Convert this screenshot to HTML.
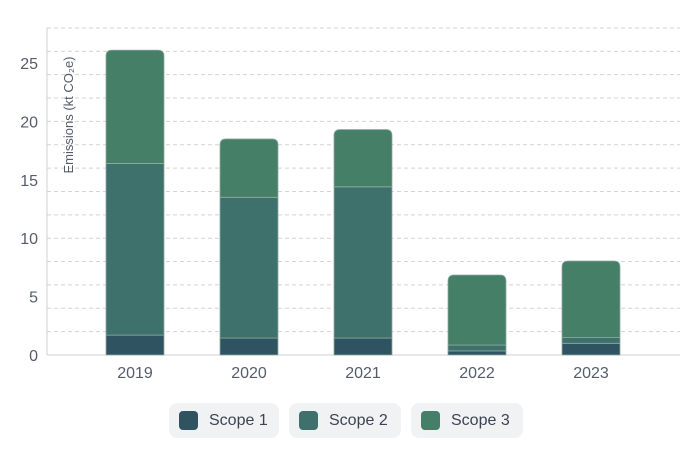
<!DOCTYPE html>
<html><head><meta charset="utf-8">
<style>
body{margin:0;background:#fff;width:686px;height:466px;overflow:hidden;font-family:"Liberation Sans",sans-serif;}
#chart{position:absolute;left:0;top:0;}
.legend{position:absolute;top:403px;left:0;width:686px;height:35px;}
.pill{position:absolute;top:0;height:35px;background:#f1f2f4;border-radius:8px;display:flex;align-items:center;font-size:16px;color:#3a4452;}
.sw{width:19px;height:19px;border-radius:4px;margin:0 11px 0 10px;}
</style></head><body>
<svg id="chart" width="686" height="400"></svg>
<div class="legend">
  <div class="pill" style="left:169px;width:110px"><div class="sw" style="background:#2f5361"></div>Scope 1</div>
  <div class="pill" style="left:289px;width:112px"><div class="sw" style="background:#3f716c"></div>Scope 2</div>
  <div class="pill" style="left:411px;width:112px"><div class="sw" style="background:#467f68"></div>Scope 3</div>
</div>
<script>
const categories = ["2019","2020","2021","2022","2023"];
const scope1 = [1.7, 1.45, 1.45, 0.35, 1.0];
const scope2 = [14.7, 12.05, 12.95, 0.5, 0.5];
const scope3 = [9.7, 5.0, 4.9, 6.0, 6.55];
const yTicks = [0, 5, 10, 15, 20, 25];
const gridValues = [0,2,4,6,8,10,12,14,16,18,20,22,24,26,28];

const NS = "http://www.w3.org/2000/svg";
const svg = document.getElementById("chart");
const x0 = 47, x1 = 680, yBase = 355, unit = 11.68;
const y = v => yBase - v * unit;
const xc = i => 135 + i * 114;
const barW = 58;
function mk(tag, attrs){const e=document.createElementNS(NS,tag);for(const k in attrs)e.setAttribute(k,attrs[k]);svg.appendChild(e);return e;}

gridValues.forEach(v=>{
  if(v===0) return;
  const l = mk("line",{x1:x0,x2:x1,y1:y(v),y2:y(v),stroke:"#d3d3d8","stroke-dasharray":"4,3","stroke-width":1});
  
  
});
const ax = mk("line",{x1:x0,x2:x0,y1:y(28),y2:yBase,stroke:"#d0d0d6"});


const bx = mk("line",{x1:x0,x2:x1,y1:yBase,y2:yBase,stroke:"#d0d0d6"});



yTicks.forEach(v=>{
  const t = mk("text",{x:38,y:y(v)+6,"text-anchor":"end","font-size":16,fill:"#555d6b"});
  t.textContent = v;
  
  
});
const yt = mk("text",{transform:"translate(73,115) rotate(-90)","text-anchor":"middle","font-size":13,fill:"#555d6b"});
yt.textContent = "Emissions (kt CO₂e)";



const series = [[scope1,"#2f5361","scope-1"],[scope2,"#3f716c","scope-2"],[scope3,"#467f68","scope-3"]];
categories.forEach((c,i)=>{
  let base = 0;
  const total = scope1[i]+scope2[i]+scope3[i];
  series.forEach(([arr,col,nm],si)=>{
    const v = arr[i];
    const top = base + v;
    let el;
    if(si===2){
      const xl = xc(i)-barW/2, xr = xc(i)+barW/2, yt2 = y(top), yb = y(base), r = 6;
      el = mk("path",{d:`M${xl},${yb} L${xl},${yt2+r} Q${xl},${yt2} ${xl+r},${yt2} L${xr-r},${yt2} Q${xr},${yt2} ${xr},${yt2+r} L${xr},${yb} Z`,fill:col,stroke:"#8fa9a0","stroke-width":0.8});
    } else {
      el = mk("rect",{x:xc(i)-barW/2,y:y(top),width:barW,height:y(base)-y(top),fill:col,stroke:"#8fa9a0","stroke-width":0.8});
    }
    
    
    base = top;
  });
  const t = mk("text",{x:xc(i),y:yBase+23,"text-anchor":"middle","font-size":16,fill:"#555d6b"});
  t.textContent = c;
  
  
});
</script>
</body></html>
